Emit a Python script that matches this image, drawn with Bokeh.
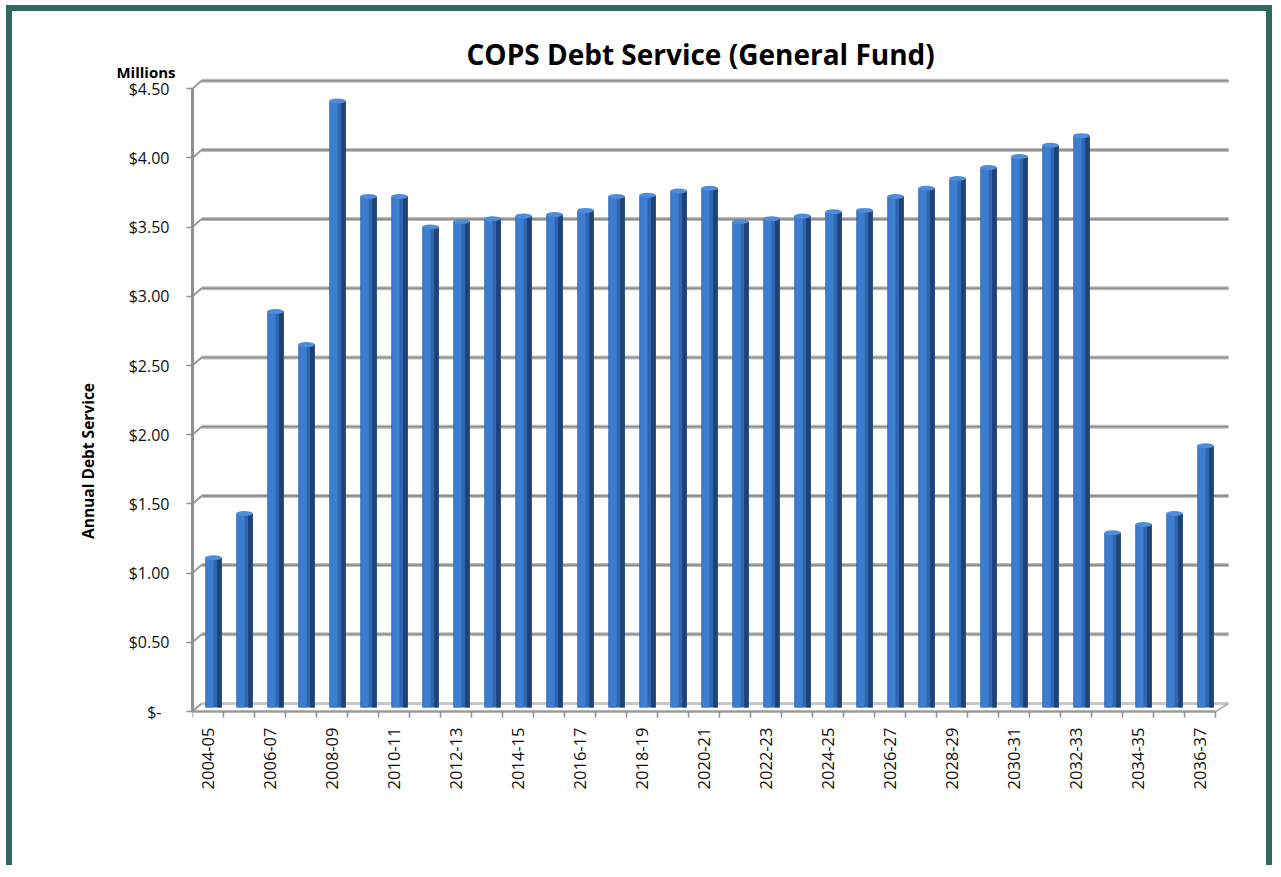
import numpy as np
from bokeh.plotting import figure
from bokeh.models import Range1d, FixedTicker, ColumnDataSource, LinearAxis
from bokeh.embed import file_html
from bokeh.resources import INLINE

# ---------------- data ----------------
categories = [
    "2004-05", "2005-06", "2006-07", "2007-08", "2008-09", "2009-10", "2010-11",
    "2011-12", "2012-13", "2013-14", "2014-15", "2015-16", "2016-17", "2017-18",
    "2018-19", "2019-20", "2020-21", "2021-22", "2022-23", "2023-24", "2024-25",
    "2025-26", "2026-27", "2027-28", "2028-29", "2029-30", "2030-31", "2031-32",
    "2032-33", "2033-34", "2034-35", "2035-36", "2036-37",
]
debt_service_millions = [
    1.10, 1.42, 2.88, 2.64, 4.40, 3.71, 3.71, 3.49, 3.53, 3.55, 3.57,
    3.58, 3.61, 3.71, 3.72, 3.75, 3.77, 3.53, 3.55, 3.57, 3.60, 3.61,
    3.71, 3.77, 3.84, 3.92, 4.00, 4.08, 4.15, 1.28, 1.34, 1.42, 1.91,
]
y_tick_values = [0.0, 0.5, 1.0, 1.5, 2.0, 2.5, 3.0, 3.5, 4.0, 4.5]
y_tick_labels = ["$-\u2002", "$0.50", "$1.00", "$1.50", "$2.00", "$2.50",
                 "$3.00", "$3.50", "$4.00", "$4.50"]

title_text = "COPS Debt Service (General Fund)"
units_text = "Millions"
y_title = "Annual Debt Service"

# ---------------- geometry (pixels) ----------------
W, H = 1266, 860
ML, MR, MT, MB = 180, 46, 51, 153
frame_w = W - ML - MR
frame_h = H - MT - MB
px_per_cat = 31.0
px_per_unit = 138.4
x0 = -0.5
y0 = -7.0 / px_per_unit
x_end = x0 + frame_w / px_per_cat
y_end = y0 + frame_h / px_per_unit

depth_dy = 8.0 / px_per_unit          # back wall offset (vertical)
back_left = x0 + 9.0 / px_per_cat     # back wall left edge
n = len(categories)
back_right = (n - 0.5) + 13.0 / px_per_cat
bar_dx = 5.5 / px_per_cat
bar_base = depth_dy / 2
bar_w = 16.5 / px_per_cat
cap_h = 5.0
units_pos = 4.5 + 17.0 / px_per_unit   # where the "Millions" caption sits

p = figure(width=W, height=H, output_backend="svg", toolbar_location=None,
           x_range=Range1d(x0, x_end), y_range=Range1d(y0, y_end),
           min_border_left=ML, min_border_right=MR,
           min_border_top=MT, min_border_bottom=MB,
           background_fill_color="white", border_fill_color="white",
           outline_line_color=None)
p.styles = {"border-top": "6px solid #2E6A62", "border-left": "6px solid #2E6A62",
            "border-right": "6px solid #2E6A62",
            "margin-left": "6px", "margin-top": "5px"}

p.xgrid.grid_line_color = None
p.ygrid.grid_line_color = None

# title
p.title.text = title_text
p.title.text_font = "Open Sans"
p.title.text_font_style = "bold"
p.title.text_font_size = "28px"
p.title.align = "left"
p.title.offset = 274
p.title.standoff = -21
p.title.text_color = "#000000"

# y axis
yax = p.yaxis[0]
yax.ticker = FixedTicker(ticks=y_tick_values)
yax.major_label_overrides = {v: l for v, l in zip(y_tick_values, y_tick_labels)}
yax.bounds = (0, 4.5)
yax.axis_line_color = "#8F8F8F"
yax.axis_line_width = 3
yax.major_tick_line_color = "#8F8F8F"
yax.major_tick_line_width = 1.5
yax.major_tick_out = 6
yax.major_tick_in = 0
yax.minor_tick_line_color = None
yax.major_label_standoff = 17
yax.major_label_text_font = "Open Sans"
yax.major_label_text_font_size = "16px"
yax.major_label_text_color = "#111111"

# outer left axis: "Millions" caption (as a tick label) and the y title
p.extra_y_ranges = {"title": Range1d(y0, y_end)}
title_axis = LinearAxis(y_range_name="title", ticker=FixedTicker(ticks=[units_pos]),
                        major_label_overrides={units_pos: units_text},
                        major_label_standoff=-50,
                        major_label_text_font="Open Sans",
                        major_label_text_font_style="bold",
                        major_label_text_font_size="15px",
                        major_label_text_color="#000000",
                        axis_line_color=None,
                        major_tick_line_color=None, minor_tick_line_color=None,
                        major_tick_out=0, major_tick_in=0, minor_tick_out=0,
                        axis_label=y_title + "\u00a0" * 35, axis_label_standoff=14,
                        axis_label_text_font="Open Sans",
                        axis_label_text_font_style="bold",
                        axis_label_text_font_size="15.5px",
                        axis_label_text_color="#000000")
p.add_layout(title_axis, "left")

# x axis
xax = p.xaxis[0]
xidx = list(range(0, n, 2))
xax.ticker = FixedTicker(ticks=xidx)
xax.major_label_overrides = {i: categories[i] for i in xidx}
xax.axis_line_color = None
xax.major_tick_line_color = None
xax.minor_tick_line_color = None
xax.major_tick_out = 0
xax.major_tick_in = 0
xax.major_label_standoff = 9
xax.major_label_orientation = np.pi / 2
xax.major_label_text_font = "Open Sans"
xax.major_label_text_font_size = "16.5px"
xax.major_label_text_color = "#111111"

# back wall gridlines + left diagonals
grid_y = [t + depth_dy for t in y_tick_values[1:]]
p.segment(x0=[back_left] * len(grid_y), y0=grid_y, x1=[back_right] * len(grid_y),
          y1=grid_y, line_color="#BDBDBD", line_width=4)
p.segment(x0=[back_left] * len(grid_y), y0=grid_y, x1=[back_right] * len(grid_y),
          y1=grid_y, line_color="#8E8E8E", line_width=1.6)
p.segment(x0=[x0] * len(y_tick_values), y0=y_tick_values,
          x1=[back_left] * len(y_tick_values),
          y1=[t + depth_dy for t in y_tick_values], line_color="#9A9A9A", line_width=2)

# floor
p.segment(x0=[back_left], y0=[depth_dy], x1=[back_right], y1=[depth_dy],
          line_color="#C8C8C8", line_width=3)
p.segment(x0=[x0], y0=[0], x1=[n - 0.5], y1=[0], line_color="#9A9A9A", line_width=2.5)
p.segment(x0=[n - 0.5], y0=[0], x1=[back_right], y1=[depth_dy],
          line_color="#B0B0B0", line_width=2)
sep = [x0 + k for k in range(n + 1)]
p.segment(x0=sep, y0=[0] * len(sep), x1=sep, y1=[-6.0 / px_per_unit] * len(sep),
          line_color="#8F8F8F", line_width=1.5)

# bars
bx = [i + bar_dx for i in range(n)]
tops = [v + bar_base - (cap_h / 2) / px_per_unit for v in debt_service_millions]
src = ColumnDataSource(dict(x=bx, top=tops,
                            xl=[x - bar_w * 0.22 for x in bx],
                            xr=[x + bar_w * 0.36 for x in bx]))
p.vbar(x="x", width=bar_w, bottom=bar_base, top="top", source=src,
       fill_color="#2F66B1", line_color=None)
p.vbar(x="xl", width=bar_w * 0.45, bottom=bar_base, top="top", source=src,
       fill_color="#3C7DCF", line_color=None)
p.vbar(x="xr", width=bar_w * 0.28, bottom=bar_base, top="top", source=src,
       fill_color="#1E4274", line_color=None)
p.ellipse(x="x", y="top", width=bar_w, height=cap_h, height_units="screen",
          source=src, fill_color="#4F8CDA", line_color=None)

open("out.html", "w").write(file_html(p, INLINE))
